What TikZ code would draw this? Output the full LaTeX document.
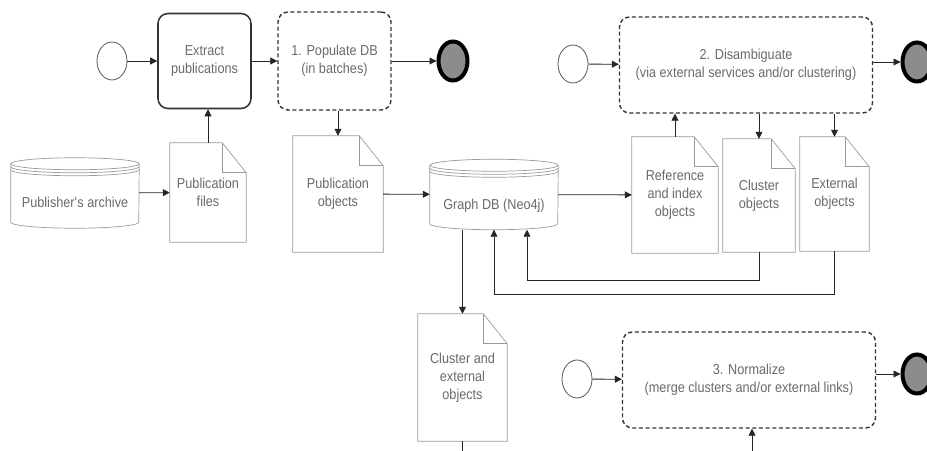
\documentclass[tikz,border=0pt]{standalone}
\usepackage{fontspec}
\setmainfont{Liberation Sans}[FakeStretch=0.88]
\usetikzlibrary{arrows.meta,shapes.geometric}

\definecolor{txtgray}{HTML}{6A6A6A}
\definecolor{pagegray}{HTML}{9A9A9A}
\definecolor{boxgray}{HTML}{333333}
\definecolor{endfill}{HTML}{8C8C8C}

\begin{document}
\begin{tikzpicture}[x=0.3mm, y=-0.3mm,
	every node/.style={font=\fontsize{12.3}{15.5}\selectfont, text=txtgray, align=center, inner sep=0pt},
	taskbox/.style={draw=boxgray, line width=1.3pt, rounded corners=3mm},
	subbox/.style={taskbox, line width=1.2pt, dash pattern=on 1.2mm off 0.8mm},
	startev/.style={ellipse, draw=black!65, line width=0.7pt, minimum width=9mm, minimum height=11.4mm},
	endev/.style={ellipse, draw=black, fill=endfill, line width=1.2mm, minimum width=8.7mm, minimum height=11.7mm},
	doc/.style={},
	store/.style={minimum width=38.4mm, minimum height=21mm, text height=25pt, text depth=0pt},
	link/.style={draw=black!85, line width=0.7pt},
	flow/.style={link, -{Triangle[length=2.1mm, width=2.1mm]}},
	pageline/.style={draw=pagegray, line width=0.6pt}
]
	\useasboundingbox (0,0) rectangle (927,451);
	\clip (0,0) rectangle (927,451);

	% process 1
	\node[startev] (start1) at (112, 61) {};
	\node[taskbox, minimum width=27.9mm, minimum height=28.5mm] (extract) at (204.5, 61) {Extract\\publications};
	\node[subbox, minimum width=33.9mm, minimum height=29.4mm] (populate) at (334.5, 61) {1. Populate DB\\(in batches)};
	\node[endev] (end1) at (453, 61) {};

	% process 2
	\node[startev] (start2) at (573, 64) {};
	\node[subbox, minimum width=75.9mm, minimum height=28.8mm] (disamb) at (746, 65) {2. Disambiguate\\(via external services and/or clustering)};
	\node[endev] (end2) at (917, 62) {};

	% process 3
	\node[startev] (start3) at (577, 379) {};
	\node[subbox, minimum width=75.9mm, minimum height=28.8mm] (normalize) at (749, 380) {3. Normalize\\(merge clusters and/or external links)};
	\node[endev] (end3) at (917, 374) {};

	% data
	\node[store] (archive) at (75, 193) {Publisher\textquotesingle s archive};
	\node[store] (graph) at (494, 194.5) {Graph DB (Neo4j)};
	\node[doc, minimum width=22.8mm, minimum height=29.7mm] (pubfiles) at (208, 192.5) {Publication\\files};
	\node[doc, minimum width=27mm, minimum height=34.8mm] (pubobj) at (338, 194) {Publication\\objects};
	\node[doc, minimum width=25.8mm, minimum height=34.8mm] (refobj) at (675, 195) {Reference\\and index\\objects};
	\node[doc, minimum width=21.6mm, minimum height=33.9mm] (clusobj) at (759, 195.5) {Cluster\\objects};
	\node[doc, minimum width=20.7mm, minimum height=34.2mm] (extobj) at (834.5, 194) {External\\objects};
	\node[doc, minimum width=26.7mm, minimum height=38.1mm] (clusext) at (462.5, 377.5) {Cluster and\\external\\objects};

	\foreach \n in {pubfiles,pubobj,refobj,clusobj,extobj,clusext} {
		\draw[pageline] (\n.north west) -- ([xshift=-7.2mm]\n.north east) -- ([yshift=-9mm]\n.north east) -- (\n.south east) -- (\n.south west) -- cycle;
		\draw[pageline] ([xshift=-7.2mm]\n.north east) |- ([yshift=-9mm]\n.north east);
	}
	\foreach \n in {archive,graph} {
		\draw[pageline] ([yshift=-1.8mm]\n.north) ellipse [x radius=19.2mm, y radius=1.8mm];
		\draw[pageline] ([yshift=-1.8mm]\n.north west) -- ([yshift=1.8mm]\n.south west) arc [start angle=180, end angle=360, x radius=19.2mm, y radius=1.8mm] -- ([yshift=-1.8mm]\n.north east);
		\draw[pageline] ([yshift=-2.7mm]\n.north west) arc [start angle=180, end angle=360, x radius=19.2mm, y radius=1.8mm];
		\draw[pageline] ([yshift=-3.6mm]\n.north west) arc [start angle=180, end angle=360, x radius=19.2mm, y radius=1.8mm];
	}

	% flows
	\draw[flow] (start1) -- (extract);
	\draw[flow] (extract) -- (populate);
	\draw[flow] (populate) -- (end1);
	\draw[flow] (start2) -- (disamb);
	\draw[flow] (disamb.east |- end2) -- (end2);
	\draw[flow] (start3) -- (normalize);
	\draw[flow] (normalize.east |- end3) -- (end3);

	\draw[flow] (archive) -- (pubfiles);
	\draw[flow] (pubfiles.north) -- (pubfiles.north |- extract.south);
	\draw[flow] (populate.south -| pubobj.north) -- (pubobj.north);
	\draw[flow] (pubobj) -- (graph);
	\draw[flow] (graph) -- (refobj);
	\draw[flow] (refobj.north) -- (refobj.north |- disamb.south);
	\draw[flow] (disamb.south -| clusobj.north) -- (clusobj.north);
	\draw[flow] (disamb.south -| extobj.north) -- (extobj.north);
	\draw[flow] (clusobj.south) -- ++(0,28) -| ([xshift=9.9mm]graph.south);
	\draw[flow] (extobj.south) -- ++(0,43) -| (graph.south);
	\draw[flow] (graph.south -| clusext.north) -- (clusext.north);

	\coordinate (clusout) at (462.5, 451);
	\coordinate (normin) at (752, 451);
	\draw[link] (clusext.south) -- (clusout);
	\draw[flow] (normin) -- (normin |- normalize.south);
\end{tikzpicture}
\end{document}
